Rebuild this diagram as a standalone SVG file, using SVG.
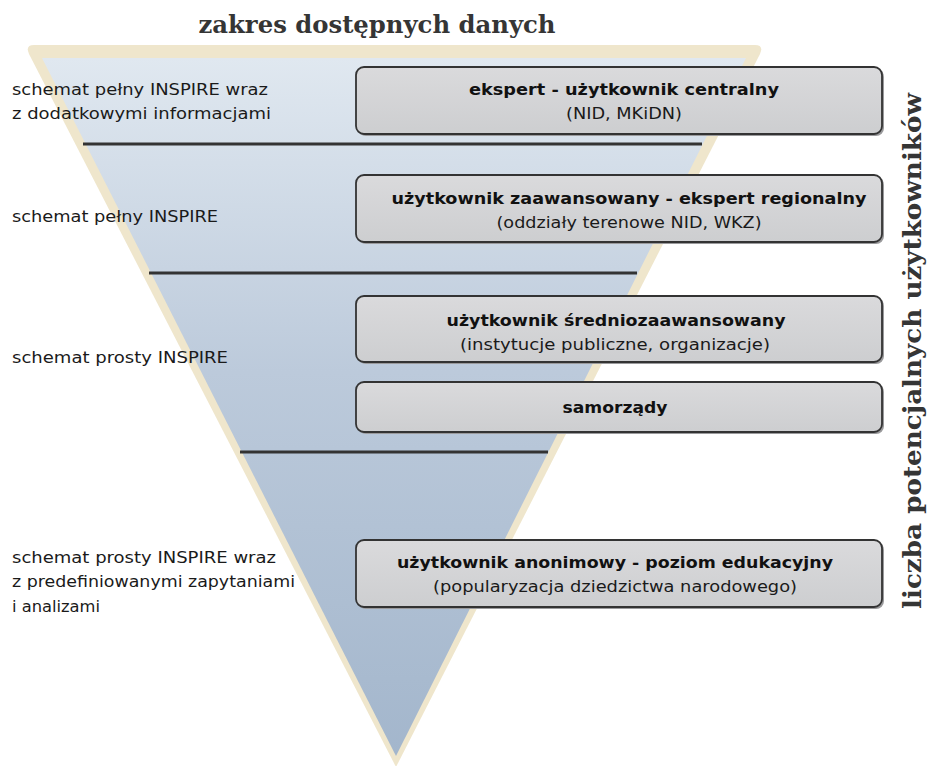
<svg xmlns="http://www.w3.org/2000/svg" width="929" height="766" viewBox="0 0 929 766">
<defs>
<linearGradient id="tri" x1="0" y1="0" x2="0" y2="1">
<stop offset="0" stop-color="#e0e8f0"/>
<stop offset="0.45" stop-color="#bccadb"/>
<stop offset="1" stop-color="#a3b6cc"/>
</linearGradient>
<linearGradient id="box" x1="0" y1="0" x2="0" y2="1">
<stop offset="0" stop-color="#dadadc"/>
<stop offset="1" stop-color="#cdced0"/>
</linearGradient>
<style>
.bx{fill:url(#box);stroke:#333;stroke-width:1.8}
.sh{fill:#9a9a9c}
.sep{stroke:#333;stroke-width:3}
.lbl{font-family:"DejaVu Sans","Liberation Sans",sans-serif;font-size:16px;fill:#1a1a1a}
.t{font-family:"DejaVu Sans","Liberation Sans",sans-serif;font-weight:bold;font-size:16px;fill:#111;text-anchor:middle}
.s{font-family:"DejaVu Sans","Liberation Sans",sans-serif;font-size:16px;fill:#1a1a1a;text-anchor:middle}
.hd{font-family:"DejaVu Serif","Liberation Serif",serif;font-weight:bold;font-size:24px;fill:#353535;text-anchor:middle}
</style>
</defs>
<rect width="929" height="766" fill="#fff"/>
<g id="funnel">
<path d="M34,45 L755,45 Q764,45 760,54 L396,767 L29,54 Q25,45 34,45 Z" fill="#efe6cc"/>
<path d="M42,58 L746,58 L396,756 Z" fill="url(#tri)"/>
</g>
<g id="separators">
<line class="sep" x1="83" y1="144" x2="702" y2="144"/>
<line class="sep" x1="149" y1="273" x2="637" y2="273"/>
<line class="sep" x1="240" y1="452" x2="548" y2="452"/>
</g>
<g id="title"><text class="hd" x="377" y="33" textLength="357" lengthAdjust="spacingAndGlyphs">zakres dostępnych danych</text></g>
<g id="axis"><text class="hd" transform="translate(921,351) rotate(-90)" textLength="516" lengthAdjust="spacingAndGlyphs">liczba potencjalnych użytkowników</text></g>
<g id="labels">
<text class="lbl" x="12" y="95" textLength="256" lengthAdjust="spacingAndGlyphs">schemat pełny INSPIRE wraz</text>
<text class="lbl" x="12" y="119" textLength="259" lengthAdjust="spacingAndGlyphs">z dodatkowymi informacjami</text>
<text class="lbl" x="12" y="222" textLength="206" lengthAdjust="spacingAndGlyphs">schemat pełny INSPIRE</text>
<text class="lbl" x="12" y="363" textLength="216" lengthAdjust="spacingAndGlyphs">schemat prosty INSPIRE</text>
<text class="lbl" x="12" y="563" textLength="264" lengthAdjust="spacingAndGlyphs">schemat prosty INSPIRE wraz</text>
<text class="lbl" x="12" y="587" textLength="283" lengthAdjust="spacingAndGlyphs">z predefiniowanymi zapytaniami</text>
<text class="lbl" x="12" y="612" textLength="88" lengthAdjust="spacingAndGlyphs">i analizami</text>
</g>
<g id="box1">
<rect class="sh" x="358" y="69" width="526" height="67" rx="8"/>
<rect class="bx" x="356" y="67" width="526" height="67" rx="8"/>
<text class="t" x="624" y="95" textLength="310" lengthAdjust="spacingAndGlyphs">ekspert - użytkownik centralny</text>
<text class="s" x="624" y="119" textLength="116" lengthAdjust="spacingAndGlyphs">(NID, MKiDN)</text>
</g>
<g id="box2">
<rect class="sh" x="358" y="177" width="526" height="67" rx="8"/>
<rect class="bx" x="356" y="175" width="526" height="67" rx="8"/>
<text class="t" x="629" y="204" textLength="475" lengthAdjust="spacingAndGlyphs">użytkownik zaawansowany - ekspert regionalny</text>
<text class="s" x="629" y="228" textLength="265" lengthAdjust="spacingAndGlyphs">(oddziały terenowe NID, WKZ)</text>
</g>
<g id="box3">
<rect class="sh" x="358" y="298" width="526" height="66" rx="8"/>
<rect class="bx" x="356" y="296" width="526" height="66" rx="8"/>
<text class="t" x="616" y="326" textLength="339" lengthAdjust="spacingAndGlyphs">użytkownik średniozaawansowany</text>
<text class="s" x="615" y="350" textLength="310" lengthAdjust="spacingAndGlyphs">(instytucje publiczne, organizacje)</text>
</g>
<g id="box4">
<rect class="sh" x="358" y="384" width="526" height="50" rx="8"/>
<rect class="bx" x="356" y="382" width="526" height="50" rx="8"/>
<text class="t" x="615" y="413" textLength="105" lengthAdjust="spacingAndGlyphs">samorządy</text>
</g>
<g id="box5">
<rect class="sh" x="358" y="542" width="526" height="67" rx="8"/>
<rect class="bx" x="356" y="540" width="526" height="67" rx="8"/>
<text class="t" x="615" y="568" textLength="436" lengthAdjust="spacingAndGlyphs">użytkownik anonimowy - poziom edukacyjny</text>
<text class="s" x="615" y="592" textLength="364" lengthAdjust="spacingAndGlyphs">(popularyzacja dziedzictwa narodowego)</text>
</g>
</svg>
